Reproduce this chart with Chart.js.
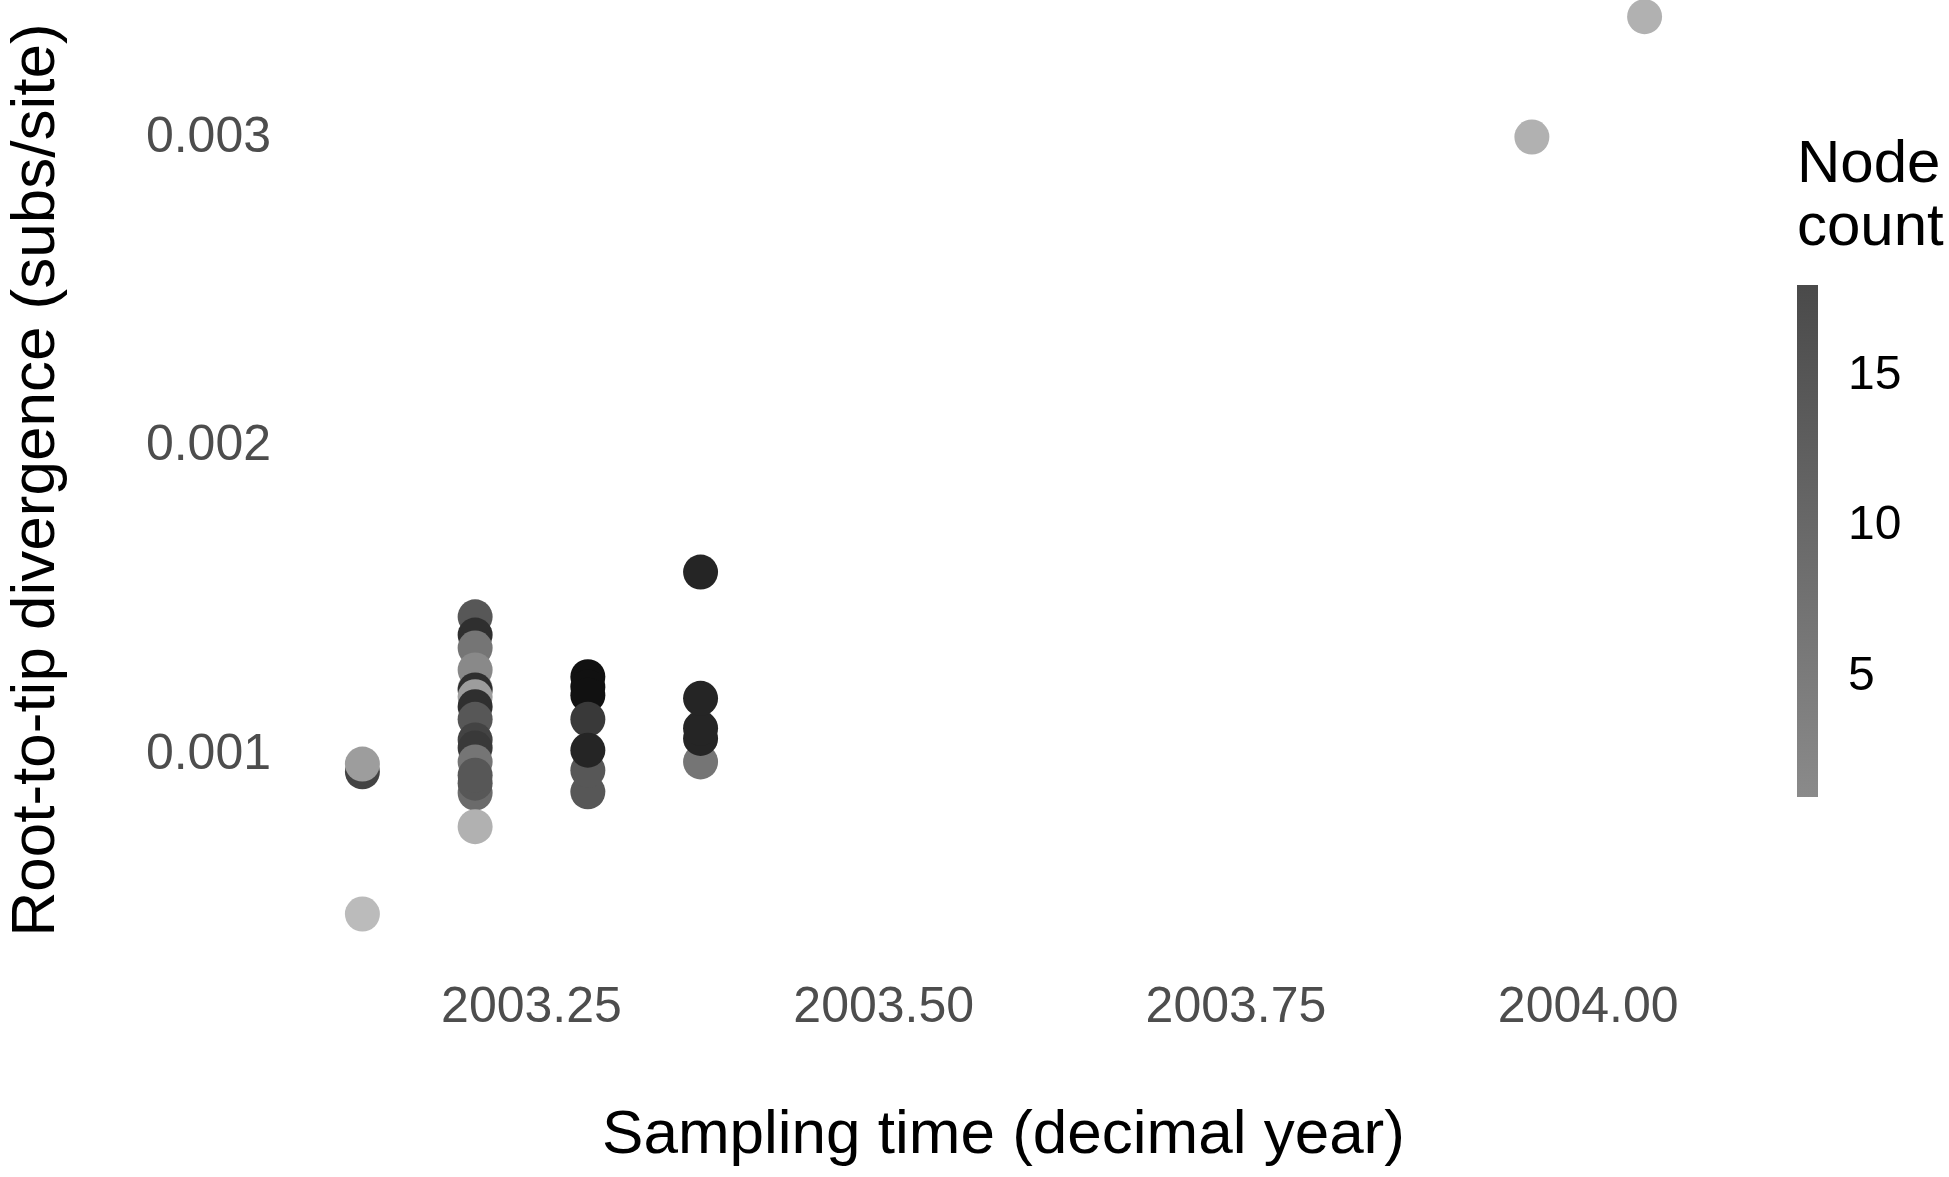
<!DOCTYPE html>
<html>
<head>
<meta charset="utf-8">
<script src="https://cdn.jsdelivr.net/npm/chart.js@4/dist/chart.umd.min.js"></script>
<style>
  html, body { margin: 0; padding: 0; background: #fff; }
</style>
</head>
<body>
<canvas id="myChart" width="1949" height="1177"></canvas>
<script>
// sampling time, root-to-tip divergence, node count (drawing order = data order)
var sampleTime = [
  2003.13, 2003.13, 2003.13,
  2003.21, 2003.21, 2003.21, 2003.21, 2003.21, 2003.21, 2003.21, 2003.21,
  2003.21, 2003.21, 2003.21, 2003.21, 2003.21, 2003.21, 2003.21, 2003.21,
  2003.29, 2003.29, 2003.29, 2003.29, 2003.29, 2003.29, 2003.29,
  2003.37, 2003.37, 2003.37, 2003.37, 2003.37,
  2003.96, 2004.04
];
var divergence = [
  0.000933, 0.000958, 0.000472,
  0.001204, 0.001435, 0.001376, 0.001334, 0.001263, 0.001198, 0.001176, 0.001144,
  0.001103, 0.001036, 0.001010, 0.000965, 0.000864, 0.000896, 0.000922, 0.000755,
  0.001241, 0.001208, 0.001181, 0.001103, 0.000868, 0.000938, 0.001003,
  0.000965, 0.001041, 0.001074, 0.001171, 0.001580,
  0.002990, 0.003380
];
var nodeCount = [
  13, 4, 1,
  1, 11, 15, 8, 6, 15, 4, 15,
  11, 13, 14, 8, 9, 11, 11, 2,
  18, 18, 18, 14, 11, 11, 16,
  8, 16, 16, 16, 16,
  2, 2
];

var xTicks = [2003.25, 2003.50, 2003.75, 2004.00];
var yTicks = [0.001, 0.002, 0.003];
var legendTicks = [5, 10, 15];
var countRange = [1, 18];

var FONT = "'Liberation Sans', Arial, Helvetica, sans-serif";

function grey(c) {
  var g = Math.round(187 - (c - 1) * 10);
  return 'rgb(' + g + ',' + g + ',' + g + ')';
}

var points = sampleTime.map(function (t, i) { return { x: t, y: divergence[i] }; });

// colour bar legend on the right
const colourBar = {
  id: 'colourBar',
  afterDraw(chart) {
    const ctx = chart.ctx;
    const left = 1797, width = 21, top = 285, bottom = 797;
    ctx.save();
    ctx.fillStyle = '#000';
    ctx.font = '60px ' + FONT;
    ctx.textAlign = 'left';
    ctx.textBaseline = 'middle';
    ctx.fillText('Node', left, 165);
    ctx.fillText('count', left, 228);

    const grad = ctx.createLinearGradient(0, top, 0, bottom);
    grad.addColorStop(0, '#4a4a4a');
    grad.addColorStop(1, '#8a8a8a');
    ctx.fillStyle = grad;
    ctx.fillRect(left, top, width, bottom - top);

    ctx.fillStyle = '#000';
    ctx.font = '48px ' + FONT;
    legendTicks.forEach(function (v) {
      const y = bottom - (v - countRange[0]) / (countRange[1] - countRange[0]) * (bottom - top);
      ctx.fillText(String(v), 1848, y);
    });
    ctx.restore();
  }
};

const myChart = new Chart("myChart", {
  type: "scatter",
  data: {
    datasets: [{
      data: points,
      backgroundColor: nodeCount.map(grey),
      borderWidth: 0,
      pointRadius: 17.5,
      pointHoverRadius: 17.5,
      clip: false
    }]
  },
  options: {
    responsive: false,
    animation: false,
    layout: { autoPadding: false, padding: { top: 0, right: 241, bottom: 0, left: 0 } },
    plugins: { legend: { display: false }, tooltip: { enabled: false } },
    scales: {
      x: {
        type: 'linear',
        min: 2003.085,
        max: 2004.085,
        grid: { display: false, drawTicks: false },
        border: { display: false },
        afterFit(s) { s.height = 217; s.paddingLeft = 0; s.paddingRight = 0; },
        afterBuildTicks(s) { s.ticks = xTicks.map(function (v) { return { value: v }; }); },
        ticks: {
          callback: function (v) { return v.toFixed(2); },
          color: '#4d4d4d',
          font: { family: FONT, size: 50 },
          padding: 18,
          maxRotation: 0,
          autoSkip: false
        },
        title: {
          display: true,
          text: 'Sampling time (decimal year)',
          color: '#000',
          font: { family: FONT, size: 62 },
          padding: { top: 0, bottom: 4 }
        }
      },
      y: {
        type: 'linear',
        min: 0.000323,
        max: 0.003434,
        grid: { display: false, drawTicks: false },
        border: { display: false },
        afterFit(s) { s.width = 299; s.paddingTop = 0; s.paddingBottom = 0; },
        afterBuildTicks(s) { s.ticks = yTicks.map(function (v) { return { value: v }; }); },
        ticks: {
          callback: function (v) { return v.toFixed(3); },
          color: '#4d4d4d',
          font: { family: FONT, size: 50 },
          padding: 28,
          labelOffset: 4,
          autoSkip: false
        },
        title: {
          display: true,
          text: 'Root-to-tip divergence (subs/site)',
          color: '#000',
          font: { family: FONT, size: 62 },
          padding: 0
        }
      }
    }
  },
  plugins: [colourBar]
});
</script>
</body>
</html>
